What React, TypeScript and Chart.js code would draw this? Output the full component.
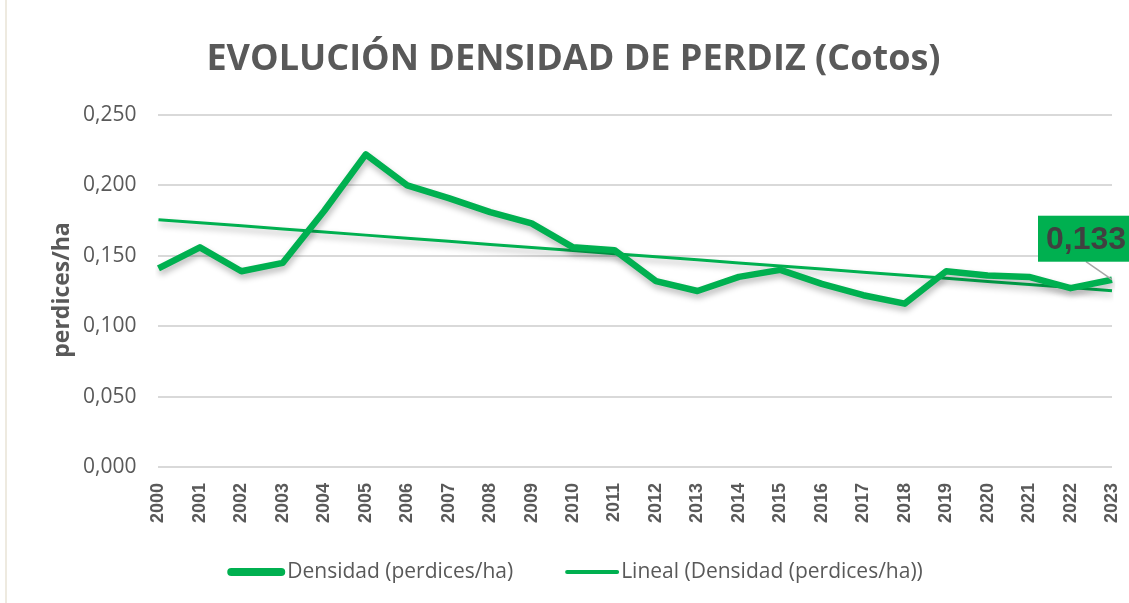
import React, { useEffect, useRef } from "react";
import { Chart, registerables } from "chart.js";

Chart.register(...registerables);

const years: string[] = ["2000","2001","2002","2003","2004","2005","2006","2007","2008","2009","2010","2011","2012","2013","2014","2015","2016","2017","2018","2019","2020","2021","2022","2023"];
const densidad: number[] = [0.141,0.156,0.139,0.145,0.182,0.222,0.200,0.191,0.181,0.173,0.156,0.154,0.132,0.125,0.135,0.140,0.130,0.122,0.116,0.139,0.136,0.135,0.127,0.133];
const titleText = "EVOLUCIÓN DENSIDAD DE PERDIZ (Cotos)";
const yTitle = "perdices/ha";
const seriesName = "Densidad (perdices/ha)";
const trendName = "Lineal (Densidad (perdices/ha))";

// Least-squares linear trendline of the data (as Excel's "Lineal" trendline)
function trend(values: number[]): number[] {
  const n = values.length;
  const mx = (n - 1) / 2;
  const my = values.reduce((a, b) => a + b, 0) / n;
  let num = 0, den = 0;
  values.forEach((v, i) => { num += (i - mx) * (v - my); den += (i - mx) * (i - mx); });
  const b = num / den;
  const a = my - b * mx;
  return values.map((_, i) => a + b * i);
}

const GREEN = "#00B050";
const TEXT = "#595959";
const FONT = "'Open Sans', sans-serif";
const fmt = (v: number) => v.toFixed(3).replace(".", ",");

const shadowPlugin = {
  id: "shadow",
  beforeDatasetDraw(chart: any) {
    const ctx = chart.ctx;
    ctx.save();
    ctx.shadowColor = "rgba(0,0,0,0.28)";
    ctx.shadowBlur = 6;
    ctx.shadowOffsetX = 1;
    ctx.shadowOffsetY = 4;
  },
  afterDatasetDraw(chart: any) {
    chart.ctx.restore();
  },
};

const labelPlugin = {
  id: "lastLabel",
  afterDatasetsDraw(chart: any) {
    const meta = chart.getDatasetMeta(0);
    const pt = meta.data[meta.data.length - 1];
    if (!pt) return;
    const ctx = chart.ctx;
    const bx = pt.x - 74, by = pt.y - 64, bw = 95, bh = 46;
    ctx.save();
    ctx.strokeStyle = "#A6A6A6";
    ctx.lineWidth = 1.5;
    ctx.beginPath();
    ctx.moveTo(pt.x - 26, by + bh);
    ctx.lineTo(pt.x, pt.y);
    ctx.stroke();
    ctx.fillStyle = GREEN;
    ctx.fillRect(bx, by, bw, bh);
    ctx.fillStyle = "#404040";
    ctx.font = "bold 32px 'Liberation Sans', Arial, sans-serif";
    ctx.textBaseline = "middle";
    ctx.textAlign = "left";
    ctx.fillText(fmt(densidad[densidad.length - 1]), bx + 8, by + bh / 2 + 1);
    ctx.restore();
  },
};

// Titles and legend drawn like Excel's layout
const textPlugin = {
  id: "excelText",
  afterDraw(chart: any) {
    const ctx = chart.ctx;
    ctx.save();
    ctx.fillStyle = TEXT;
    ctx.textBaseline = "middle";
    ctx.textAlign = "center";
    ctx.font = `bold 36px ${FONT}`;
    ctx.fillText(titleText, 573.5, 60);

    ctx.save();
    ctx.translate(62, 290);
    ctx.rotate(-Math.PI / 2);
    ctx.font = `bold 23px ${FONT}`;
    ctx.fillText(yTitle, 0, 0);
    ctx.restore();

    const y = 572;
    const items = [
      { text: seriesName, w: 58, lw: 8 },
      { text: trendName, w: 54, lw: 4 },
    ];
    ctx.font = `21px ${FONT}`;
    const gapText = 2, gapItem = 52;
    const widths = items.map((it) => it.w + gapText + ctx.measureText(it.text).width);
    const total = widths.reduce((a, b) => a + b, 0) + gapItem;
    let x = 575 - total / 2;
    ctx.textAlign = "left";
    items.forEach((it, i) => {
      ctx.strokeStyle = GREEN;
      ctx.lineWidth = it.lw;
      ctx.lineCap = "round";
      ctx.beginPath();
      ctx.moveTo(x + it.lw / 2, y);
      ctx.lineTo(x + it.w - it.lw / 2, y);
      ctx.stroke();
      ctx.fillText(it.text, x + it.w + gapText, y);
      x += widths[i] + gapItem;
    });
    ctx.restore();
  },
};

export default function App() {
  const ref = useRef<HTMLCanvasElement | null>(null);
  useEffect(() => {
    if (!ref.current) return;
    const chart = new Chart(ref.current, {
      type: "line",
      data: {
        labels: years,
        datasets: [
          {
            label: seriesName,
            data: densidad,
            borderColor: GREEN,
            backgroundColor: GREEN,
            borderWidth: 6.5,
            pointRadius: 0,
            tension: 0,
            borderJoinStyle: "round",
          },
          {
            label: trendName,
            data: trend(densidad),
            borderColor: GREEN,
            backgroundColor: GREEN,
            borderWidth: 3,
            pointRadius: 0,
            tension: 0,
          },
        ],
      },
      options: {
        animation: false,
        responsive: false,
        maintainAspectRatio: false,
        layout: { padding: { left: 61, right: 17, top: 115, bottom: 72 } },
        scales: {
          x: {
            offset: false,
            grid: { display: false },
            border: { display: false },
            afterFit: (s: any) => { s.paddingLeft = 0; s.paddingRight = 0; },
            ticks: {
              maxRotation: 90,
              minRotation: 90,
              padding: 8,
              color: TEXT,
              font: { family: "'Liberation Sans', Arial, sans-serif", size: 18, weight: "bold" },
            },
          },
          y: {
            min: 0,
            max: 0.25,
            ticks: {
              stepSize: 0.05,
              padding: 22,
              color: TEXT,
              font: { family: FONT, size: 21 },
              callback: (v: any) => fmt(Number(v)),
            },
            grid: { color: "#D9D9D9", lineWidth: 2, drawTicks: false },
            border: { display: false },
          },
        },
        plugins: {
          title: { display: false },
          legend: { display: false },
          tooltip: { enabled: false },
        },
      },
      plugins: [shadowPlugin, labelPlugin, textPlugin],
    });
    return () => chart.destroy();
  }, []);
  return (
    <div style={{ position: "fixed", left: 0, top: 0, width: 1129, height: 603, background: "#fff" }}>
      <div style={{ position: "absolute", left: 5, top: 0, width: 2, height: 603, background: "#EEEAE0" }} />
      <canvas ref={ref} width={1129} height={603} style={{ position: "absolute", left: 0, top: 0 }} />
    </div>
  );
}
